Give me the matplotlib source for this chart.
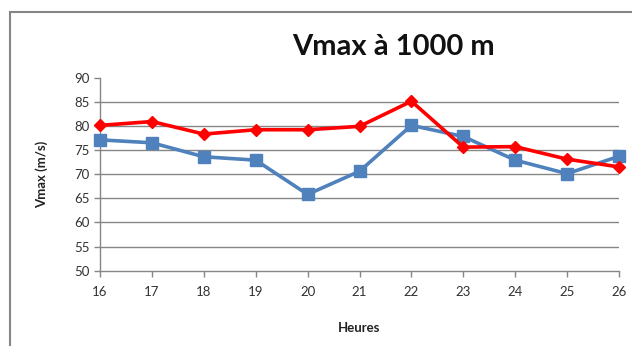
import matplotlib
matplotlib.use('Agg')
from matplotlib import pyplot as plt
from matplotlib.patches import Rectangle

plt.rcParams['font.family'] = ['Lato', 'DejaVu Sans']

heures = [16, 17, 18, 19, 20, 21, 22, 23, 24, 25, 26]
serie_rouge = [80.1, 80.9, 78.3, 79.2, 79.2, 79.9, 85.1, 75.6, 75.7, 73.1, 71.5]
serie_bleue = [77.1, 76.5, 73.6, 72.9, 65.8, 70.6, 80.1, 77.8, 72.9, 70.1, 73.7]
y_ticks = [50, 55, 60, 65, 70, 75, 80, 85, 90]

fig = plt.figure(figsize=(6.32, 3.46), dpi=100)
ax = fig.add_axes([100/632, 75.3/346, 519/632, 193.1/346])

gris = '#868686'
for v in y_ticks[1:-1]:
    ax.axhline(v, color=gris, lw=1.0, zorder=1)

ax.plot(heures, serie_bleue, color='#4F81BD', lw=2.6, marker='s', markersize=9,
        zorder=3, clip_on=False)
ax.plot(heures, serie_rouge, color='#FF0000', lw=2.6, marker='D', markersize=6.5,
        zorder=4, clip_on=False)

ax.set_xlim(16, 26)
ax.set_ylim(50, 90)
ax.set_xticks(heures)
ax.set_yticks(y_ticks)
ax.tick_params(axis='both', colors=gris, labelcolor='#333333', labelsize=9.5,
               length=4, width=1, direction='out')
ax.tick_params(axis='x', pad=7)
for s in ['top', 'right']:
    ax.spines[s].set_visible(False)
for s in ['left', 'bottom']:
    ax.spines[s].set_color(gris)
    ax.spines[s].set_linewidth(1.0)

ax.set_xlabel('Heures', fontsize=9.5, fontweight='bold', color='#222222', labelpad=17)
ax.set_ylabel('Vmax (m/s)', fontsize=9.5, fontweight='bold', color='#222222', labelpad=19)

fig.text(393/632, 1 - 47/346, 'Vmax à 1000 m', fontsize=21, fontweight='bold',
         ha='center', va='center', color='#111111')

# cadre autour du graphique
fig.patches.append(Rectangle((10/632, -0.1), 1.0, 1 - 12/346 + 0.1,
                             transform=fig.transFigure, fill=False,
                             edgecolor=gris, lw=1.5))

plt.savefig('out.png', dpi=100)
